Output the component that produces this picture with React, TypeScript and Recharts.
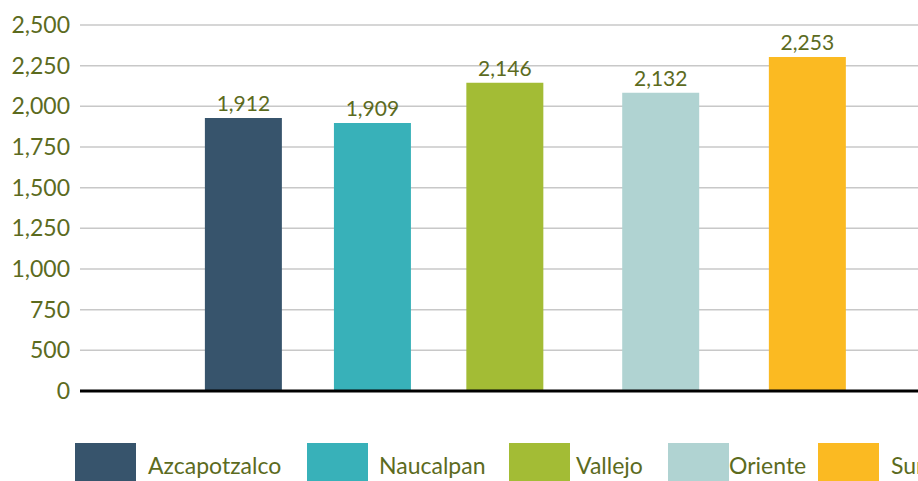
import { BarChart, Bar, XAxis, YAxis, CartesianGrid, Cell, LabelList } from 'recharts'

// Bar heights; printed labels kept as they appear
const regions = ['Azcapotzalco', 'Naucalpan', 'Vallejo', 'Oriente', 'Sur']
const barValues = [1928, 1898, 2145, 2084, 2303]
const printedLabels = ['1,912', '1,909', '2,146', '2,132', '2,253']
// bar centres along the horizontal axis, as a share (0–100) of the plot width
const slots = [19.5, 34.9, 50.7, 69.3, 86.8]
const colors = ['#37546C', '#38B1B9', '#A3BC35', '#B0D3D2', '#FBBA22']
const yTicks = [250, 500, 750, 1000, 1250, 1500, 1750, 2000, 2250, 2500]
const yTickLabels = ['0', '500', '750', '1,000', '1,250', '1,500', '1,750', '2,000', '2,250', '2,500']

const TEXT = '#5C6B1E'
const FONT = 'Lato, sans-serif'

const data = regions.map((name, i) => ({
  name,
  x: slots[i],
  value: barValues[i],
  label: printedLabels[i],
}))

const legendWidths = [232, 202, 159, 150, 110]
const legendGaps = [12, 11, 6, 0, 12]

export default function App() {
  return (
    <div style={{ position: 'fixed', left: 0, top: 0, width: 918, height: 481, overflow: 'hidden', background: '#fff', fontFamily: FONT }}>
      <BarChart width={918} height={481} data={data} margin={{ top: 25, right: 0, left: 0, bottom: 89 }}>
        <CartesianGrid horizontal vertical={false} stroke="#C8C8C8" strokeWidth={1.5} />
        <XAxis
          type="number"
          dataKey="x"
          domain={[0, 100]}
          tick={false}
          tickLine={false}
          height={1}
          axisLine={{ stroke: '#000', strokeWidth: 3 }}
        />
        <YAxis
          type="number"
          domain={[250, 2500]}
          ticks={yTicks}
          interval={0}
          width={80}
          axisLine={false}
          tickLine={false}
          tickMargin={4}
          tickFormatter={(v: number) => yTickLabels[yTicks.indexOf(v)] ?? ''}
          tick={{ fontSize: 23, fill: TEXT, fontFamily: FONT }}
        />
        <Bar dataKey="value" barSize={77} isAnimationActive={false}>
          {data.map((d, i) => (
            <Cell key={d.name} fill={colors[i]} />
          ))}
          <LabelList
            dataKey="label"
            position="top"
            offset={7}
            style={{ fontSize: 21, fill: TEXT, fontFamily: FONT }}
          />
        </Bar>
      </BarChart>
      <div style={{ position: 'absolute', left: 75, top: 443, display: 'flex', whiteSpace: 'nowrap' }}>
        {regions.map((name, i) => (
          <div key={name} style={{ width: legendWidths[i], display: 'flex', alignItems: 'flex-start', flexShrink: 0 }}>
            <span style={{ width: 61, height: 38, background: colors[i], display: 'inline-block', flexShrink: 0 }} />
            <span style={{ marginLeft: legendGaps[i], fontSize: 23, color: TEXT, lineHeight: '38px', marginTop: 3 }}>{name}</span>
          </div>
        ))}
      </div>
    </div>
  )
}
